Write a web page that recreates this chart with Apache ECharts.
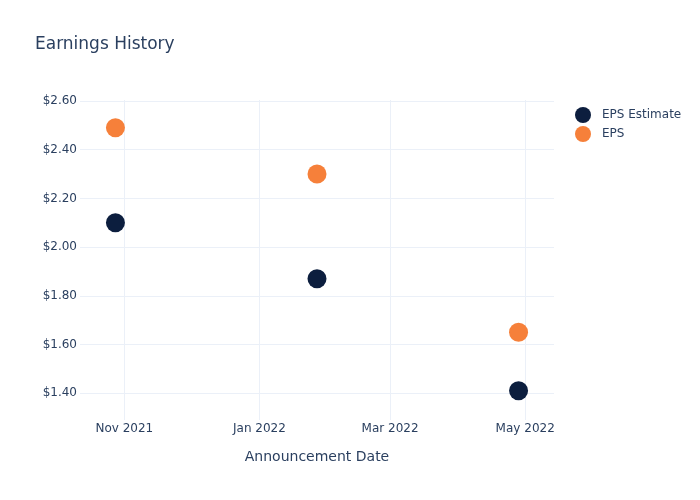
<!DOCTYPE html>
<html>
<head>
<meta charset="utf-8">
<script src="https://cdn.jsdelivr.net/npm/echarts@6/dist/echarts.min.js"></script>
<style>html,body{margin:0;padding:0;background:#fff}#chart{width:700px;height:500px}</style>
</head>
<body>
<div id="chart"></div>
<script>
var dates = ['2021-10-28', '2022-01-27', '2022-04-28'];
var epsEstimate = [2.10, 1.87, 1.41];
var eps = [2.49, 2.30, 1.65];
var xTicks = ['2021-11-01', '2022-01-01', '2022-03-01', '2022-05-01'];
var yTicks = [1.4, 1.6, 1.8, 2.0, 2.2, 2.4, 2.6];
var monthNames = ['Jan','Feb','Mar','Apr','May','Jun','Jul','Aug','Sep','Oct','Nov','Dec'];

function ms(s) { return Date.parse(s + 'T00:00:00Z'); }
function pairs(vals) { return dates.map(function (d, i) { return [ms(d), vals[i]]; }); }
var xTickMs = xTicks.map(ms);
var txt = '#2a3f5f';
var grid = '#ebf0f8';
var font = 'DejaVu Sans';

var chart = echarts.init(document.getElementById('chart'), null, {renderer: 'canvas'});
chart.setOption({
  animation: false,
  backgroundColor: '#fff',
  textStyle: {fontFamily: font},
  title: {
    text: 'Earnings History', left: 30, top: 31,
    textStyle: {fontFamily: font, fontSize: 17, fontWeight: 'normal', color: txt}
  },
  legend: {
    orient: 'vertical', left: 570, top: 102, itemGap: 3,
    icon: 'circle', itemWidth: 16, itemHeight: 16,
    textStyle: {fontFamily: font, fontSize: 12, color: txt, padding: [0, 0, 0, 6]},
    data: ['EPS Estimate', 'EPS']
  },
  grid: {left: 80, right: 146, top: 100, bottom: 80, containLabel: false},
  xAxis: {
    type: 'value',
    min: ms('2021-10-12'), max: ms('2022-05-14'),
    name: 'Announcement Date', nameLocation: 'middle', nameGap: 30,
    nameTextStyle: {fontFamily: font, fontSize: 14, color: txt},
    axisLine: {show: false},
    axisTick: {show: false, customValues: xTickMs},
    axisLabel: {
      customValues: xTickMs, margin: 3,
      fontFamily: font, fontSize: 12, color: txt,
      formatter: function (v) { var d = new Date(v); return monthNames[d.getUTCMonth()] + ' ' + d.getUTCFullYear(); }
    },
    splitLine: {show: true, lineStyle: {color: grid, width: 1}}
  },
  yAxis: {
    type: 'value', min: 1.29, max: 2.604,
    axisLine: {show: false},
    axisTick: {show: false, customValues: yTicks},
    axisLabel: {
      customValues: yTicks, margin: 3,
      fontFamily: font, fontSize: 12, color: txt,
      formatter: function (v) { return '$' + v.toFixed(2); }
    },
    splitLine: {show: true, lineStyle: {color: grid, width: 1}}
  },
  series: [
    {name: 'EPS Estimate', type: 'scatter', symbolSize: 19, data: pairs(epsEstimate), itemStyle: {color: '#0c1e3e', opacity: 1}},
    {name: 'EPS', type: 'scatter', symbolSize: 19, data: pairs(eps), itemStyle: {color: '#f6803a', opacity: 1}}
  ]
});
</script>
</body>
</html>
